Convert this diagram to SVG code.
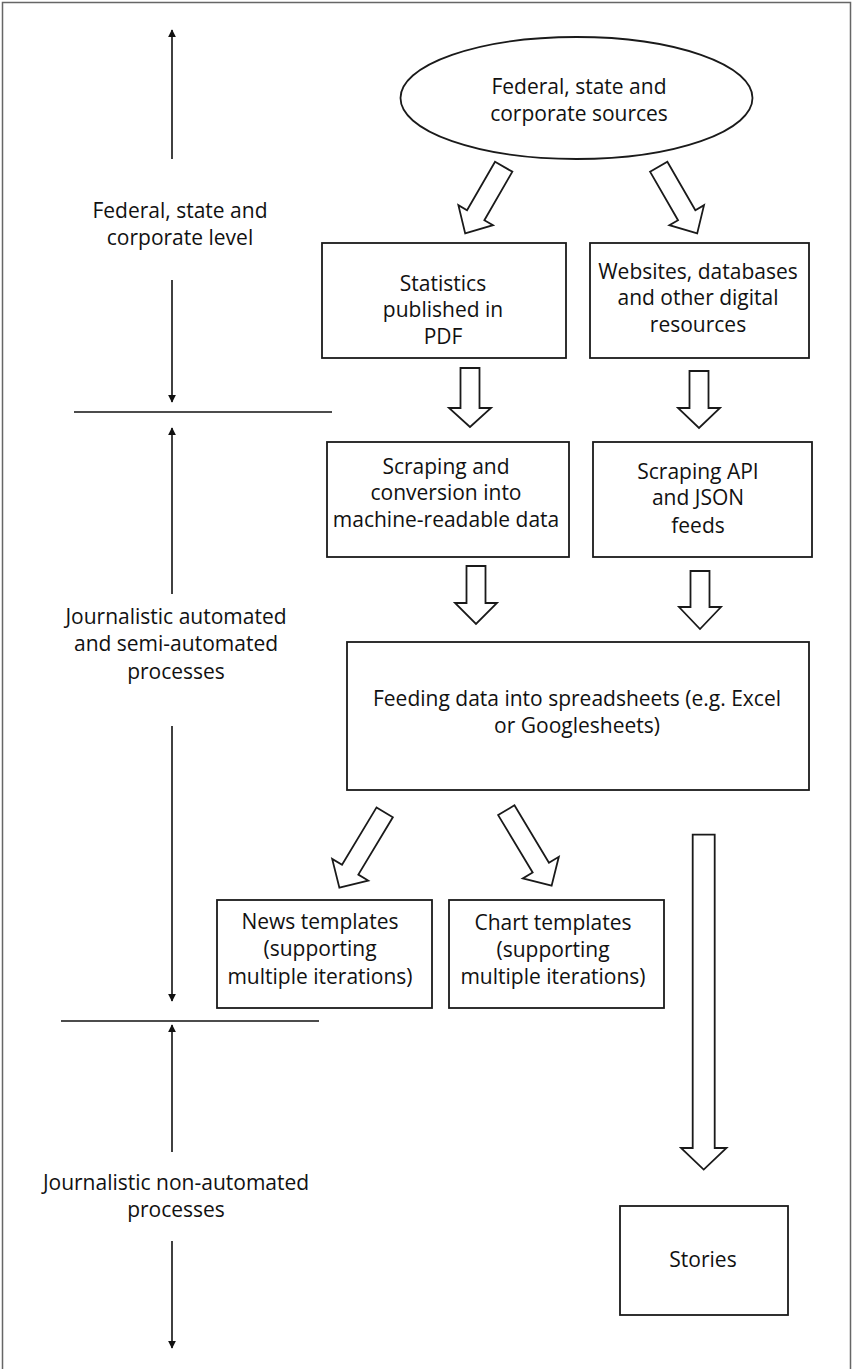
<svg xmlns="http://www.w3.org/2000/svg" width="852" height="1369" viewBox="0 0 852 1369">
<defs>
<marker id="ah" viewBox="0 0 10 10" refX="9" refY="5" markerWidth="8" markerHeight="8" markerUnits="userSpaceOnUse" orient="auto">
<path d="M0,0 L10,5 L0,10 z" fill="#111"/>
</marker>
<style>
.box{fill:#fff;stroke:#1a1a1a;stroke-width:1.8}
.blk{fill:#fff;stroke:#1a1a1a;stroke-width:1.8;stroke-linejoin:miter}
.ax{stroke:#111;stroke-width:1.6;fill:none}
.sep{stroke:#111;stroke-width:1.6}
text{font-family:"Open Sans","Noto Sans","Liberation Sans",sans-serif;font-size:21px;fill:#111;text-anchor:middle}
</style>
</defs>
<rect width="852" height="1369" fill="#fff"/>
<path d="M2.5,1369 V2.5 H850.5 V1369" fill="none" stroke="#666" stroke-width="1.5"/>

<g id="axis">
<line class="ax" x1="172" y1="159" x2="172" y2="30" marker-end="url(#ah)"/>
<line class="ax" x1="172" y1="280" x2="172" y2="402" marker-end="url(#ah)"/>
<line class="sep" x1="74" y1="412" x2="332" y2="412"/>
<line class="ax" x1="172" y1="594" x2="172" y2="428" marker-end="url(#ah)"/>
<line class="ax" x1="172" y1="726" x2="172" y2="1001" marker-end="url(#ah)"/>
<line class="sep" x1="61" y1="1021" x2="319" y2="1021"/>
<line class="ax" x1="172" y1="1152" x2="172" y2="1025" marker-end="url(#ah)"/>
<line class="ax" x1="172" y1="1241" x2="172" y2="1348" marker-end="url(#ah)"/>
</g>

<g id="level-labels">
<text x="180" y="218">Federal, state and</text>
<text x="180" y="245">corporate level</text>
<text x="176" y="624">Journalistic automated</text>
<text x="176" y="651">and semi-automated</text>
<text x="176" y="679">processes</text>
<text x="176" y="1190">Journalistic non-automated</text>
<text x="176" y="1217">processes</text>
</g>

<g id="connectors">
<polygon class="blk" transform="translate(503.7,166.7) rotate(30)" points="-10,0 10,0 10,56 20,56 0,77 -20,56 -10,56"/>
<polygon class="blk" transform="translate(658.7,166.7) rotate(-30)" points="-10,0 10,0 10,56 20,56 0,77 -20,56 -10,56"/>
<polygon class="blk" points="460.5,368 479.5,368 479.5,408 491,408 470,427 449,408 460.5,408"/>
<polygon class="blk" points="689.5,371 708.5,371 708.5,408 720,408 699,428 678,408 689.5,408"/>
<polygon class="blk" points="466.5,566 485.5,566 485.5,603 497,603 476,624 455,603 466.5,603"/>
<polygon class="blk" points="690.5,571 709.5,571 709.5,607 721,607 700,629 679,607 690.5,607"/>
<polygon class="blk" transform="translate(384.7,812.3) rotate(31)" points="-9.5,0 9.5,0 9.5,67 21,67 0,88 -21,67 -9.5,67"/>
<polygon class="blk" transform="translate(506.3,810.2) rotate(-31)" points="-9.5,0 9.5,0 9.5,67 21,67 0,88 -21,67 -9.5,67"/>
<polygon class="blk" points="692.7,834.7 714.7,834.7 714.7,1148 726.5,1148 703.7,1169.6 681,1148 692.7,1148"/>
</g>

<g id="sources">
<ellipse class="box" cx="576.5" cy="98" rx="176" ry="61"/>
<text x="579" y="94">Federal, state and</text>
<text x="579" y="121">corporate sources</text>
</g>

<g id="statistics">
<rect class="box" x="322" y="243" width="244" height="115"/>
<text x="443" y="291">Statistics</text>
<text x="443" y="317">published in</text>
<text x="443" y="344">PDF</text>
</g>

<g id="websites">
<rect class="box" x="590" y="243" width="219" height="115"/>
<text x="698" y="278.5">Websites, databases</text>
<text x="698" y="305">and other digital</text>
<text x="698" y="332">resources</text>
</g>

<g id="scraping">
<rect class="box" x="327" y="442" width="242" height="115"/>
<text x="446" y="474">Scraping and</text>
<text x="446" y="500">conversion into</text>
<text x="446" y="527">machine-readable data</text>
</g>

<g id="scraping-api">
<rect class="box" x="593" y="442" width="219" height="115"/>
<text x="698" y="478.5">Scraping API</text>
<text x="698" y="505">and JSON</text>
<text x="698" y="533">feeds</text>
</g>

<g id="feeding">
<rect class="box" x="347" y="642" width="462" height="148"/>
<text x="577" y="706">Feeding data into spreadsheets (e.g. Excel</text>
<text x="577" y="732.5">or Googlesheets)</text>
</g>

<g id="news-templates">
<rect class="box" x="217" y="900" width="215" height="108"/>
<text x="320" y="929">News templates</text>
<text x="320" y="956">(supporting</text>
<text x="320" y="983.5">multiple iterations)</text>
</g>

<g id="chart-templates">
<rect class="box" x="449" y="900" width="215" height="108"/>
<text x="553" y="930">Chart templates</text>
<text x="553" y="957">(supporting</text>
<text x="553" y="984">multiple iterations)</text>
</g>

<g id="stories">
<rect class="box" x="620" y="1206" width="168" height="109"/>
<text x="703" y="1267">Stories</text>
</g>
</svg>
